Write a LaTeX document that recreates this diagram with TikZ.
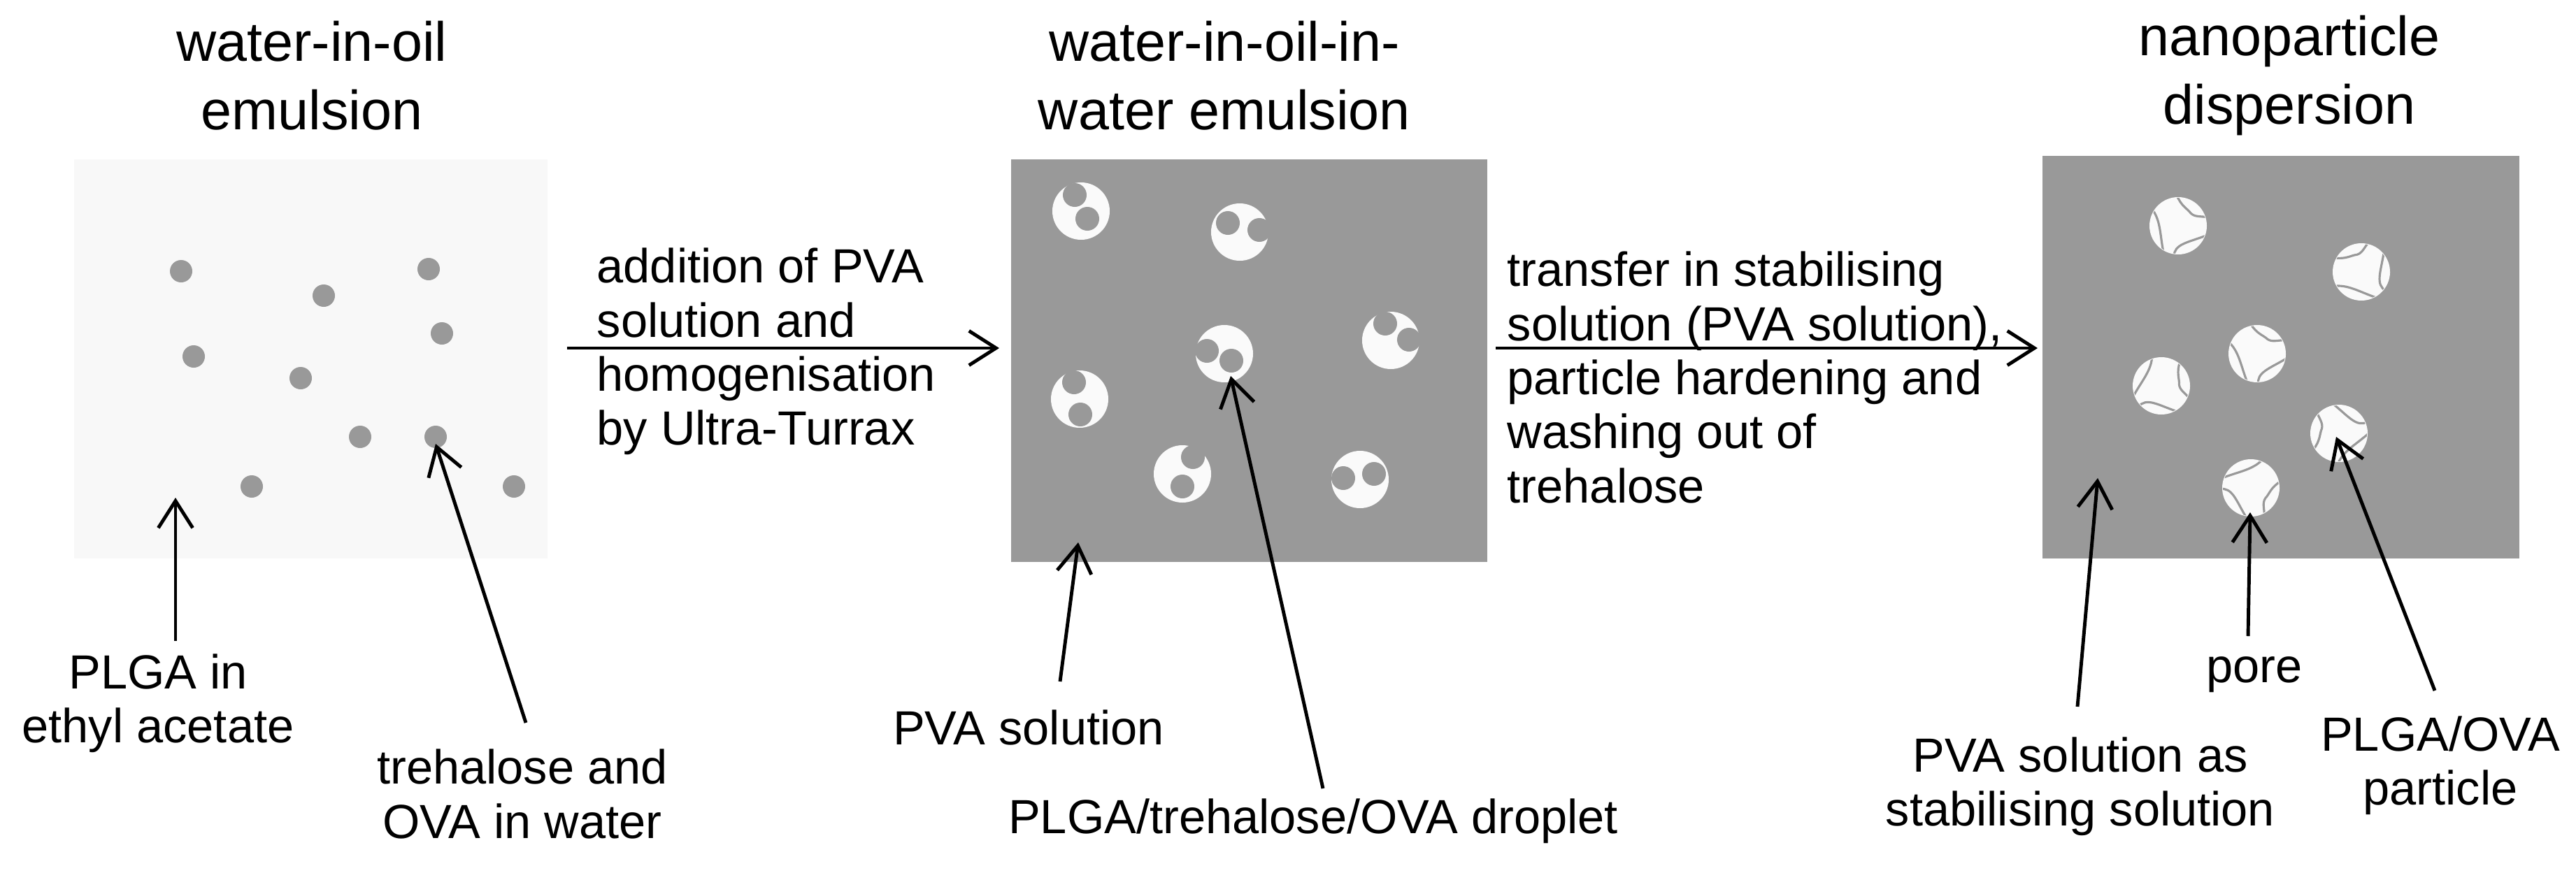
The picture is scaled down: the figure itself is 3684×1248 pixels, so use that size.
\documentclass[tikz,border=0pt]{standalone}
\usepackage{fontspec}
\setmainfont{Liberation Sans}
\usetikzlibrary{arrows.meta}
\definecolor{mediumgray}{HTML}{999999}
\definecolor{paleshade}{HTML}{F8F8F8}
\definecolor{dropwhite}{HTML}{FAFAFA}
\tikzset{
  title/.style={align=center, font=\fontsize{22.5}{28}\selectfont},
  label/.style={align=center, font=\fontsize{19.5}{22}\selectfont, inner sep=0pt},
  steplabel/.style={align=left, anchor=west, font=\fontsize{19.5}{22}\selectfont, inner sep=0pt},
  pointer/.style={-{Straight Barb[length=11pt,width=14pt]}, line width=1.4pt},
  dot/.style={fill=mediumgray},
  pore/.style={draw=mediumgray, line width=0.9pt},
}
\begin{document}
\begin{tikzpicture}[x=0.01cm,y=-0.01cm]
    \useasboundingbox (0,0) rectangle (3684,1248);

    % the three boxes
    \fill[paleshade] (106,228) rectangle (783,799);
    \fill[mediumgray] (1446,228) rectangle (2127,804);
    \fill[mediumgray] (2921,223) rectangle (3603,799);

    \node[title] (t1) at (446,108) {water-in-oil\\emulsion};
    \node[title] (t2) at (1751,108) {water-in-oil-in-\\water emulsion};
    \node[title] (t3) at (3274,108) {nanoparticle\\dispersion};

    % water droplets in oil
    \foreach \x/\y in {259/388, 463/423, 613/385, 277/510, 632/477,
                       430/541, 515/625, 623/625, 360/696, 735/696}
        \fill[dot] (\x,\y) circle (16);
    \coordinate (wdrop) at (623,635);

    % double emulsion droplets
    \foreach \x/\y/\ax/\ay/\bx/\by in {1546/302/-9/-23/9/11, 1773/332/-17/-13/28/-3,
        1989/487/-8/-24/26/-1, 1751/506/-25/-4/10/10, 1544/571/-8/-24/1/22,
        1691/678/15/-24/0/18, 1945/686/-24/-2/20/-8}
    {
        \fill[dropwhite] (\x,\y) circle (41);
        \fill[mediumgray] (\x+\ax,\y+\ay) circle (17);
        \fill[mediumgray] (\x+\bx,\y+\by) circle (17);
    }
    \coordinate (droptip) at (1760,538);

    % porous particles
    \foreach \x/\y/\r in {3115/323/0, 3377/389/60, 3228/506/10,
                          3091/552/-40, 3345/620/120, 3219/698/-80}
    {
        \begin{scope}[shift={(\x,\y)}, rotate=\r]
            \fill[dropwhite] (0,0) circle (41);
            \clip (0,0) circle (40);
            \draw[pore] (-36,-22) .. controls (-24,-5) and (-26,18) .. (-20,42);
            \draw[pore] (-2,-44) .. controls (4,-28) and (14,-24) .. (18,-18)
                        .. controls (24,-12) and (32,-14) .. (44,-12);
            \draw[pore] (-6,44) .. controls (-6,26) and (14,24) .. (40,14);
        \end{scope}
    }
    \coordinate (poretip) at (3218,733);
    \coordinate (parttip) at (3341,625);

    % process steps
    \draw[pointer] (811,498) coordinate (s1) -- (1429,498) coordinate (s2);
    \node[steplabel] (step1) at (853,503)
        {addition of PVA\\solution and\\homogenisation\\by Ultra-Turrax};
    \draw[pointer] (2139,498) coordinate (s3) -- (2914,498) coordinate (s4);
    \node[steplabel] (step2) at (2155,540)
        {transfer in stabilising\\solution (PVA solution),\\particle hardening and\\washing out of\\trehalose};

    % annotations
    \node[label] (plga) at (226,1006) {PLGA in\\ethyl acetate};
    \node[label] (treh) at (747,1136) {trehalose and\\OVA in water};
    \node[label] (pva) at (1471,1041) {PVA solution};
    \node[label] (drop) at (1878,1175) {PLGA/trehalose/OVA droplet};
    \node[label] (stab) at (2975,1125) {PVA solution as\\stabilising solution};
    \node[label] (pore) at (3224,965) {pore};
    \node[label] (part) at (3490,1095) {PLGA/OVA\\particle};

    \coordinate (plgatip) at (251,712);
    \coordinate (pvatip) at (1542,776);
    \coordinate (stabtip) at (3000,684);

    \draw[pointer] (251,917) -- (plgatip);
    \draw[pointer] (752,1034) -- (wdrop);
    \draw[pointer] (1516,975) -- (pvatip);
    \draw[pointer] (1892,1128) -- (droptip);
    \draw[pointer] (2971,1011) -- (stabtip);
    \draw[pointer] (3215,910) -- (poretip);
    \draw[pointer] (3482,988) -- (parttip);
\end{tikzpicture}
\end{document}
